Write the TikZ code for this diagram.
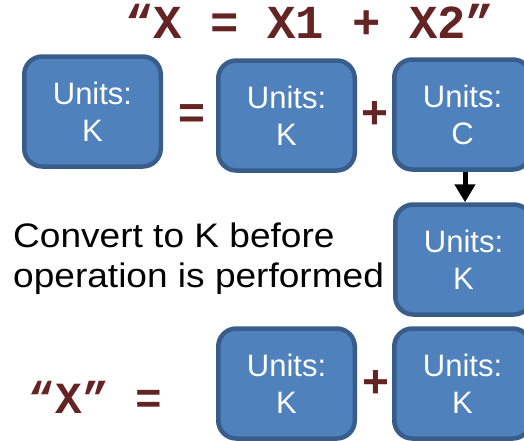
\documentclass[tikz,border=0pt]{standalone}
\usepackage{fontspec}
\setmainfont{Liberation Sans}
\newfontfamily\monofam{Liberation Mono}
\newfontfamily\widesans[FakeStretch=1.09]{Liberation Sans}
\usetikzlibrary{arrows.meta}
\definecolor{boxfill}{HTML}{4F81BD}
\definecolor{boxline}{HTML}{385D8A}
\definecolor{darkred}{HTML}{632423}
\tikzset{
  unitbox/.style={draw=boxline, fill=boxfill, line width=4.5pt, rounded corners=18pt,
    minimum width=136.5pt, minimum height=110pt, inner sep=0pt, align=center,
    text=white, font=\fontsize{31}{37}\selectfont},
  opsym/.style={text=darkred, inner sep=0pt, font=\fontsize{46}{50}\selectfont\bfseries},
  codetext/.style={text=darkred, inner sep=0pt, anchor=base west, font=\monofam\bfseries},
  note/.style={text=black, inner sep=0pt, align=left, anchor=west, font=\widesans\fontsize{34}{40}\selectfont},
  conv/.style={line width=5pt, -{Triangle[width=20pt,length=18pt]}}
}
\begin{document}
\begin{tikzpicture}[x=1pt,y=-1pt]
\useasboundingbox (0,0) rectangle (524,440);
\node[codetext, font=\monofam\bfseries\fontsize{47.3}{50}\selectfont] (title) at (125,38) {“X = X1 + X2”};
\node[unitbox] (b1) at (92.5,111.5) {Units:\\K};
\node[unitbox] (b2) at (286.5,115.5) {Units:\\K};
\node[unitbox] (b3) at (462.5,114.5) {Units:\\C};
\node[unitbox] (b4) at (463.5,259.5) {Units:\\K};
\node[unitbox] (b5) at (286.5,383.5) {Units:\\K};
\node[unitbox] (b6) at (462.5,383.5) {Units:\\K};
\node[opsym] (eq1) at (192,117) {=};
\node[opsym] (pl1) at (375,115) {+};
\node[opsym] (pl2) at (375.5,384) {+};
\node[note] (txt) at (13,259) {Convert to K before\\operation is performed};
\node[codetext, font=\monofam\bfseries\fontsize{44.5}{48}\selectfont] (lhs) at (28.5,413) {“X” =};
\draw[conv] (b3.south -| 465,0) -- (b4.north -| 465,0);
\end{tikzpicture}
\end{document}
